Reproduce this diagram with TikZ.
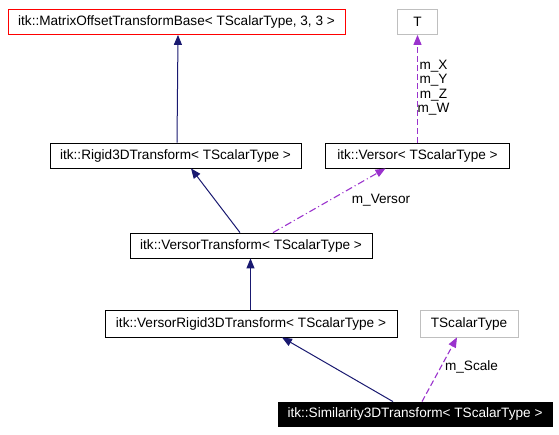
\documentclass[tikz,border=0pt]{standalone}
\usepackage{fontspec}
\setmainfont{Liberation Sans}
\usetikzlibrary{arrows.meta, positioning}
\definecolor{edgeblue}{HTML}{191970}
\definecolor{edgepurple}{HTML}{9A32CD}
\definecolor{boxgray}{HTML}{BFBFBF}

\begin{document}
\begin{tikzpicture}[x=1pt, y=-1pt,
    cls/.style={draw, line width=0.8pt, inner sep=0pt, minimum height=25pt, font=\fontsize{13.6}{15}\selectfont},
    inherit/.style={edgeblue, line width=1pt, -{Triangle[length=10pt, width=8pt]}},
    usage/.style={edgepurple, line width=1.1pt, dash pattern=on 6pt off 3pt, -{Triangle[length=10pt, width=8pt]}},
    lbl/.style={font=\fontsize{13.6}{14.5}\selectfont, inner sep=0pt, align=center}]
    \useasboundingbox (0,0) rectangle (559,434);
    % Classes
    \node[cls, draw=red, minimum width=337pt] (motb) at (176.5,22) {itk::MatrixOffsetTransformBase< TScalarType, 3, 3 >};
    \node[cls, draw=boxgray, minimum width=40pt] (tbox) at (417.5,22) {T};
    \node[cls, minimum width=251pt] (rigid) at (175.5,155.5) {itk::Rigid3DTransform< TScalarType >};
    \node[cls, minimum width=184pt] (versor) at (417.5,155.5) {itk::Versor< TScalarType >};
    \node[cls, minimum width=242pt] (vtrans) at (251,245.5) {itk::VersorTransform< TScalarType >};
    \node[cls, minimum width=292pt, minimum height=27pt] (vrigid) at (251,323.5) {itk::VersorRigid3DTransform< TScalarType >};
    \node[cls, draw=boxgray, minimum width=98pt, minimum height=27pt] (tscal) at (469,323.5) {TScalarType};
    \node[cls, fill=black, text=white, minimum width=274pt, minimum height=24pt] (simil) at (415,414) {itk::Similarity3DTransform< TScalarType >};

    % Inheritance
    \draw[inherit] ([xshift=1.5pt]rigid.north) -- ([xshift=1.5pt]motb.south);
    \draw[inherit] ([xshift=-11pt]vtrans.north) -- ([xshift=15.5pt]rigid.south);
    \draw[inherit] ([xshift=-0.5pt]vrigid.north) -- ([xshift=-0.5pt]vtrans.south);
    \draw[inherit] ([xshift=-22pt]simil.north) -- ([xshift=31pt]vrigid.south);

    % Members
    \draw[usage] (versor.north) -- (tbox.south);
    \draw[usage, dash pattern=on 7pt off 3pt on 1pt off 3pt] ([xshift=22pt]vtrans.north) -- ([xshift=-32pt]versor.south);
    \draw[usage] ([xshift=7pt]simil.north) -- ([xshift=-12pt]tscal.south);

    % Labels
    \node[lbl] (lxyzw) at (433.5,87.5) {m\_X\\m\_Y\\m\_Z\\m\_W};
    \node[lbl] (lversor) at (381,200) {m\_Versor};
    \node[lbl] (lscale) at (471.5,367) {m\_Scale};
\end{tikzpicture}
\end{document}
